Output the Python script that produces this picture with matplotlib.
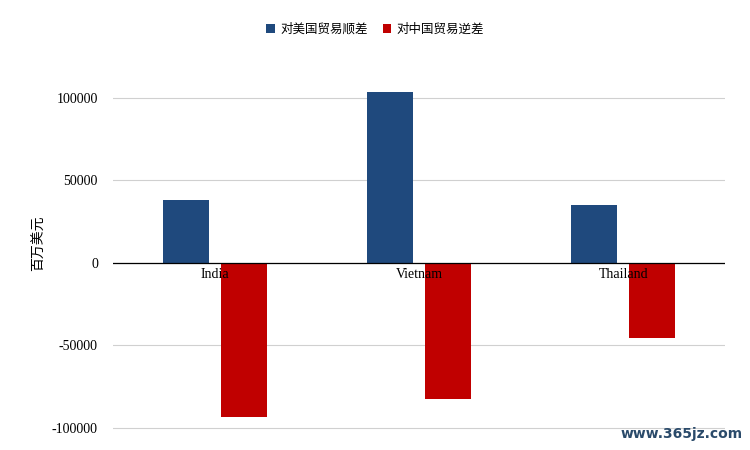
import matplotlib
matplotlib.use("Agg")
import matplotlib.pyplot as plt
import numpy as np

categories = ["India", "Vietnam", "Thailand"]
us_surplus = [38200, 103600, 35200]
china_deficit = [-93300, -82400, -45500]
series_names = ["对美国贸易顺差", "对中国贸易逆差"]
yticks = [-100000, -50000, 0, 50000, 100000]

cjk = "Noto Sans CJK SC"
serif = "Liberation Serif"

fig = plt.figure(figsize=(7.5, 4.5), dpi=100)
ax = fig.add_axes([0.151, 0.045, 0.816, 0.83])
x = np.arange(len(categories))
w = 0.224
ax.bar(x - 0.142, us_surplus, w, color="#1f497d", label=series_names[0], zorder=3)
ax.bar(x + 0.142, china_deficit, w, color="#c00000", label=series_names[1], zorder=3)
ax.set_xlim(-0.5, 2.5)
ax.set_ylim(-101000, 125000)
ax.set_yticks(yticks)
ax.set_yticklabels([str(v) for v in yticks], fontfamily=serif, fontsize=10)
ax.set_xticks([])
ax.grid(axis="y", color="#d0d0d0", lw=0.8, zorder=0)
ax.axhline(0, color="black", lw=0.9, zorder=4)
for s in ax.spines.values():
    s.set_visible(False)
ax.tick_params(axis="y", length=0, pad=11)
for xi, c in zip(x, categories):
    ax.text(xi, -7000, c, ha="center", va="center", fontfamily=serif, fontsize=10, zorder=5)
ax.set_ylabel("百万美元", fontfamily=cjk, fontsize=10, labelpad=4)
fig.legend(loc="upper center", bbox_to_anchor=(0.5, 0.975), ncol=2, frameon=False,
           prop={"family": cjk, "size": 9}, handlelength=0.7, handleheight=0.7, columnspacing=1.2, handletextpad=0.4)
fig.text(0.99, 0.02, "www.365jz.com", ha="right", va="bottom", fontsize=10,
         fontfamily="DejaVu Sans", fontweight="bold", color="#2a4a6a")
fig.savefig("out.png")
